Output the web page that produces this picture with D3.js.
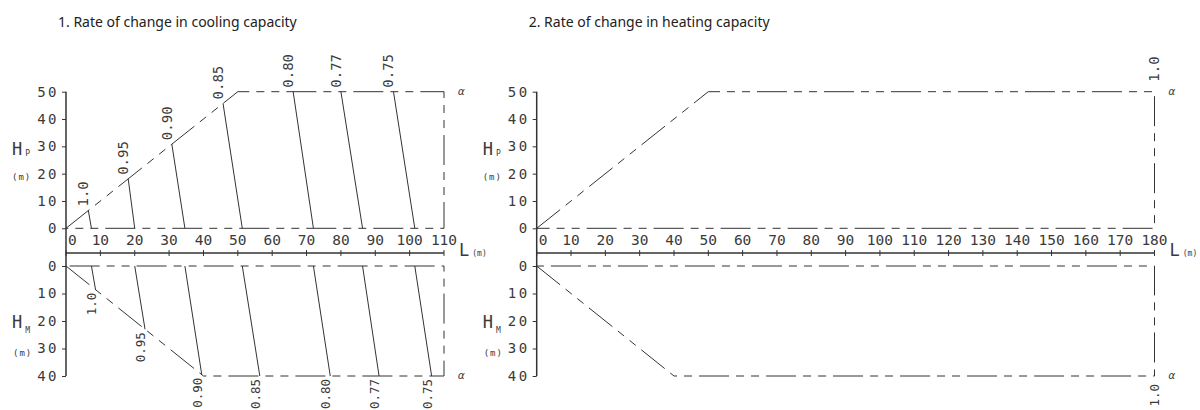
<!DOCTYPE html>
<html>
<head>
<meta charset="utf-8">
<script src="https://cdn.jsdelivr.net/npm/d3@7"></script>
<style>
  body { margin: 0; background: #fff; }
  .cad { font-family: "DejaVu Sans Mono", "Liberation Mono", monospace; fill: #3a3a3a; }
  .title { font-family: "Noto Sans", "Open Sans", sans-serif; font-size: 14px; fill: #222; }
</style>
</head>
<body>
<div id="chart"></div>
<script>
// cooling chart: one line per rate, running from the upper envelope down to H=0 and on to the lower envelope
const coolRates = ["1.0", "0.95", "0.90", "0.85", "0.80", "0.77", "0.75"];
const coolTopL = [6.5, 18.1, 30.8, 45.7, 66.1, 80, 95.3];
const coolTopH = [6.5, 18.1, 30.8, 45.7, 50, 50, 50];
const coolBaseL = [7.4, 20, 34.6, 51.3, 72, 86.3, 101.5];
const coolEndL = [8.6, 23, 39.5, 56.4, 76.9, 91.1, 106.4];
const coolEndH = [8.6, 23, 39.5, 40, 40, 40, 40];

// envelope outlines (L, H)
const coolUpperL = [0, 50, 110, 110, 0];
const coolUpperH = [0, 50, 50, 0, 0];
const coolLowerL = [0, 40, 110, 110, 0];
const coolLowerH = [0, 40, 40, 0, 0];
const heatUpperL = [0, 50, 180, 180, 0];
const heatUpperH = [0, 50, 50, 0, 0];
const heatLowerL = [0, 40, 180, 180, 0];
const heatLowerH = [0, 40, 40, 0, 0];

const heatRates = ["1.0"];
const heatLabelL = [180];

const coolTicksL = d3.range(0, 111, 10);
const heatTicksL = d3.range(0, 181, 10);
const upperTicksH = [0, 10, 20, 30, 40, 50];
const lowerTicksH = [0, 10, 20, 30, 40];

const width = 1200, height = 410;
const axisY = 253;
const ink = "#333";
const dash = "30,7,8,7,8,7";

const svg = d3.select("#chart").append("svg")
    .attr("width", width)
    .attr("height", height);

const yUp = d3.scaleLinear().domain([0, 50]).range([228.3, 91.7]);
const yLo = d3.scaleLinear().domain([0, 40]).range([266, 376]);

const zip = (a, b) => a.map((v, i) => [v, b[i]]);

const drawPanel = (x, title, ticksL, upper, lower) => {
    const x0 = x.range()[0], x1 = x.range()[1];
    const g = svg.append("g");

    g.append("text").attr("class", "title")
        .attr("x", x0 - 8).attr("y", 27)
        .text(title);

    // envelopes
    const lineUp = d3.line().x(d => x(d[0])).y(d => yUp(d[1]));
    const lineLo = d3.line().x(d => x(d[0])).y(d => yLo(d[1]));
    g.append("path").attr("d", lineUp(upper))
        .attr("fill", "none").attr("stroke", ink).attr("stroke-width", 1)
        .attr("stroke-dasharray", dash);
    g.append("path").attr("d", lineLo(lower))
        .attr("fill", "none").attr("stroke", ink).attr("stroke-width", 1)
        .attr("stroke-dasharray", dash);

    // vertical axis through both halves
    g.append("line")
        .attr("x1", x0).attr("x2", x0)
        .attr("y1", yUp(50)).attr("y2", yLo(40))
        .attr("stroke", ink).attr("stroke-width", 1.5);

    const yAxisUp = d3.axisLeft(yUp).tickValues(upperTicksH).tickSize(4).tickPadding(3);
    const yAxisLo = d3.axisLeft(yLo).tickValues(lowerTicksH).tickSize(4).tickPadding(3);
    [yAxisUp, yAxisLo].forEach(ax => {
        const a = g.append("g").attr("transform", `translate(${x0},0)`).call(ax);
        a.select(".domain").remove();
        a.selectAll("line").attr("stroke", ink);
        a.selectAll("text").attr("class", "cad")
            .attr("font-size", 14).attr("letter-spacing", 2.5)
            .attr("font-family", null);
    });

    // horizontal L axis
    g.append("line")
        .attr("x1", x0).attr("x2", x1)
        .attr("y1", axisY).attr("y2", axisY)
        .attr("stroke", ink).attr("stroke-width", 1.6);
    g.selectAll(".xt").data(ticksL).enter().append("line")
        .attr("x1", d => x(d)).attr("x2", d => x(d))
        .attr("y1", axisY - 3).attr("y2", axisY + 3)
        .attr("stroke", ink);
    g.selectAll(".xl").data(ticksL).enter().append("text")
        .attr("class", "cad").attr("font-size", 14.5)
        .attr("x", d => d === 0 ? x(d) + 2 : x(d))
        .attr("y", axisY - 8)
        .attr("text-anchor", d => d === 0 ? "start" : "middle")
        .text(d => d);

    // axis names
    const name = (tx, ty, big, small, dyS) => {
        const t = g.append("text").attr("class", "cad").attr("x", tx).attr("y", ty);
        t.append("tspan").attr("font-size", 17).text(big);
        t.append("tspan").attr("font-size", 8).attr("dx", 3).attr("dy", dyS).text(small);
    };
    name(x0 - 54, 155, "H", "P", 1);
    name(x0 - 54, 328, "H", "M", 5);
    g.append("text").attr("class", "cad").attr("font-size", 9).attr("letter-spacing", 1)
        .attr("x", x0 - 54).attr("y", 180).text("(m)");
    g.append("text").attr("class", "cad").attr("font-size", 9).attr("letter-spacing", 1)
        .attr("x", x0 - 53).attr("y", 356).text("(m)");
    name(x1 + 15, 256, "L", "(m)", 0);

    g.append("text").attr("class", "cad").attr("font-size", 11).attr("font-style", "italic")
        .attr("x", x1 + 14).attr("y", yUp(50) + 3).text("α");
    g.append("text").attr("class", "cad").attr("font-size", 11).attr("font-style", "italic")
        .attr("x", x1 + 14).attr("y", yLo(40) + 3).text("α");

    return g;
};

const rateLabel = (g, px, py, anchor, txt, size) => {
    g.append("text").attr("class", "cad").attr("font-size", size)
        .attr("text-anchor", anchor)
        .attr("transform", `translate(${px},${py}) rotate(-90)`)
        .text(txt);
};

// 1. cooling
const xCool = d3.scaleLinear().domain([0, 110]).range([66, 444]);
const gc = drawPanel(xCool, "1. Rate of change in cooling capacity", coolTicksL,
    zip(coolUpperL, coolUpperH), zip(coolLowerL, coolLowerH));

coolRates.forEach((r, i) => {
    gc.append("line")
        .attr("x1", xCool(coolTopL[i])).attr("y1", yUp(coolTopH[i]))
        .attr("x2", xCool(coolBaseL[i])).attr("y2", yUp(0))
        .attr("stroke", ink).attr("stroke-width", 1);
    gc.append("line")
        .attr("x1", xCool(coolBaseL[i])).attr("y1", yLo(0))
        .attr("x2", xCool(coolEndL[i])).attr("y2", yLo(coolEndH[i]))
        .attr("stroke", ink).attr("stroke-width", 1);
    rateLabel(gc, xCool(coolTopL[i]), yUp(coolTopH[i]) - 4, "start", r, 14);
    rateLabel(gc, xCool(coolEndL[i]), yLo(coolEndH[i]) + 3, "end", r, 12.5);
});

// 2. heating
const xHeat = d3.scaleLinear().domain([0, 180]).range([536.7, 1154.5]);
const gh = drawPanel(xHeat, "2. Rate of change in heating capacity", heatTicksL,
    zip(heatUpperL, heatUpperH), zip(heatLowerL, heatLowerH));

heatRates.forEach((r, i) => {
    rateLabel(gh, xHeat(heatLabelL[i]) + 4, yUp(50) - 10, "start", r, 14);
    rateLabel(gh, xHeat(heatLabelL[i]) + 4, yLo(40) + 8, "end", r, 12.5);
});
</script>
</body>
</html>
